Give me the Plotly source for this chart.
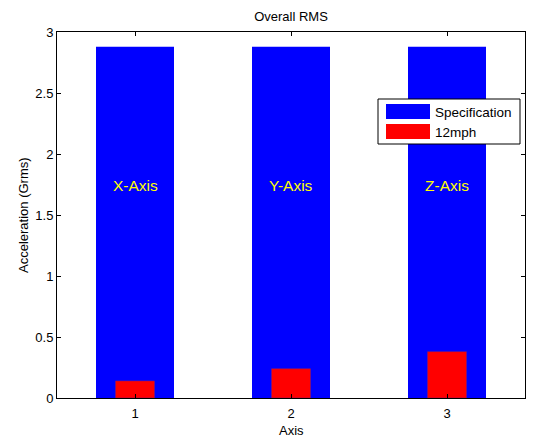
import plotly.graph_objects as go

# Data
axes_idx = [1, 2, 3]
axis_names = ["X-Axis", "Y-Axis", "Z-Axis"]
spec_rms = [2.88, 2.88, 2.88]
mph12_rms = [0.14, 0.24, 0.38]
label_height = 1.74
y_ticks = [0, 0.5, 1, 1.5, 2, 2.5, 3]
y_tick_text = ["0", "0.5", "1", "1.5", "2", "2.5", "3"]

FONT = "Liberation Sans, Arial, Helvetica, sans-serif"
BLUE = "#0000FF"
RED = "#FF0000"
FS = 13

fig = go.Figure()
fig.add_trace(go.Bar(x=axes_idx, y=spec_rms, width=0.5, name="Specification",
                     marker=dict(color=BLUE, line=dict(width=0)), showlegend=False))
fig.add_trace(go.Bar(x=axes_idx, y=mph12_rms, width=0.25, name="12mph",
                     marker=dict(color=RED, line=dict(color="#7a1a7a", width=0.6)),
                     showlegend=False))

# Axis labels written inside the specification bars
for xi, name in zip(axes_idx, axis_names):
    fig.add_annotation(x=xi, y=label_height, text=name, showarrow=False,
                       xref="x", yref="y",
                       font=dict(family=FONT, size=15.5, color="#FFFF00"))

# Plot area geometry (pixels) used for legend and axis titles
W, H = 536, 437
L, R, T, B = 57, 11, 32, 39
pw, ph = W - L - R, H - T - B


def px(xp):
    return (xp - L) / pw


def py(yp):
    return (H - B - yp) / ph


# Legend box
fig.add_shape(type="rect", xref="paper", yref="paper",
              x0=px(378), x1=px(520), y0=py(144), y1=py(99),
              line=dict(color="black", width=1), fillcolor="white", layer="above")
legend_rows = [("Specification", BLUE, 104, 119, 112), ("12mph", RED, 124, 139, 132)]
for text, col, ytop, ybot, ytxt in legend_rows:
    fig.add_shape(type="rect", xref="paper", yref="paper",
                  x0=px(386), x1=px(430), y0=py(ybot), y1=py(ytop),
                  line=dict(width=0), fillcolor=col, layer="above")
    fig.add_annotation(xref="paper", yref="paper", x=px(433), y=py(ytxt),
                       xanchor="left", yanchor="middle", text=text, showarrow=False,
                       font=dict(family=FONT, size=13.5, color="black"))

# Axis titles
fig.add_annotation(xref="paper", yref="paper", x=0.5, y=py(430), xanchor="center",
                   yanchor="middle", text="Axis", showarrow=False,
                   font=dict(family=FONT, size=FS, color="black"))
fig.add_annotation(xref="paper", yref="paper", x=px(23), y=0.5, xanchor="center",
                   yanchor="middle", text="Acceleration (Grms)", textangle=-90,
                   showarrow=False, font=dict(family=FONT, size=FS, color="black"))

axis_common = dict(showline=True, linecolor="black", linewidth=1, mirror="ticks",
                   ticks="inside", ticklen=4, tickcolor="black", showgrid=False,
                   zeroline=False, automargin=False,
                   tickfont=dict(family=FONT, size=FS, color="black"))

fig.update_layout(
    width=W, height=H,
    margin=dict(l=L, r=R, t=T, b=B),
    paper_bgcolor="white", plot_bgcolor="white",
    barmode="overlay",
    title=dict(text="Overall RMS", x=(L + pw / 2) / W, xanchor="center",
               y=1 - 16 / H, yanchor="middle",
               font=dict(family=FONT, size=FS, color="black")),
    xaxis=dict(range=[0.5, 3.5], tickvals=axes_idx, ticktext=[str(v) for v in axes_idx],
               ticklabelstandoff=3, **axis_common),
    yaxis=dict(range=[0, 3], tickvals=y_ticks, ticktext=y_tick_text, **axis_common),
    showlegend=False,
)

fig.write_html("out.html")
